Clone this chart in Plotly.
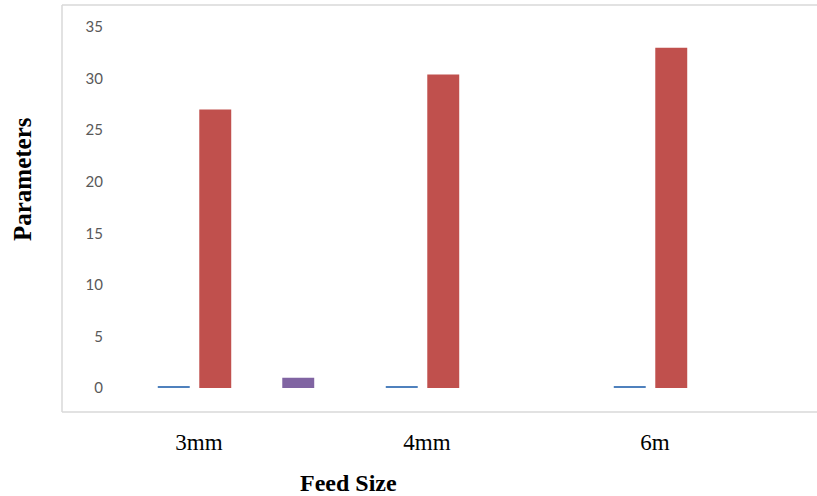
import plotly.graph_objects as go

categories = ["3mm", "4mm", "6m"]
series_names = ["Series 1", "Series 2", "Series 3", "Series 4"]
series_1 = [0.1, 0.1, 0.1]
series_2 = [27.0, 30.4, 33.0]
series_3 = [0.0, 0.0, 0.0]
series_4 = [1.0, 0.0, 0.0]
series_colors = ["#4F81BD", "#C0504D", "#9BBB59", "#8064A2"]
y_ticks = [0, 5, 10, 15, 20, 25, 30, 35]

fig = go.Figure()
for name, vals, col in zip(series_names, [series_1, series_2, series_3, series_4], series_colors):
    fig.add_trace(go.Bar(x=categories, y=vals, name=name, marker=dict(color=col, line=dict(width=0))))

W, H = 817, 496
ml, mr, mt, mb = 122, 11, 27, 108
pw, ph = W - ml - mr, H - mt - mb

def px_to_paper(x, y):
    return (x - ml) / pw, (H - mb - y) / ph

bx0, by0 = px_to_paper(62, 412)
bx1, by1 = px_to_paper(817, 5)

ax_x, ax_y = px_to_paper(348, 483)
ay_x, ay_y = px_to_paper(22, 179)

border = dict(color="#D9D9D9", width=1.5)
fig.update_layout(
    width=W, height=H,
    margin=dict(l=ml, r=mr, t=mt, b=mb),
    paper_bgcolor="white", plot_bgcolor="white",
    barmode="group", bargap=0.272, bargroupgap=0.23,
    showlegend=False,
    xaxis=dict(
        type="category", showgrid=False, zeroline=False, showline=False, ticks="",
        tickfont=dict(family="Liberation Serif", size=23, color="#000000"),
        ticklabelshift=-37, ticklabelstandoff=38,
    ),
    yaxis=dict(
        range=[0, 35], tickvals=y_ticks, showgrid=False, zeroline=False, showline=False, ticks="",
        tickfont=dict(family="Lato", size=15, color="#595959"),
        ticklabelstandoff=18,
    ),
    shapes=[
        dict(type="line", xref="paper", yref="paper", x0=bx0, x1=bx1, y0=by1, y1=by1, line=border, layer="below"),
        dict(type="line", xref="paper", yref="paper", x0=bx0, x1=bx1, y0=by0, y1=by0, line=border, layer="below"),
        dict(type="line", xref="paper", yref="paper", x0=bx0, x1=bx0, y0=by0, y1=by1, line=border, layer="below"),
    ],
    annotations=[
        dict(text="<b>Feed Size</b>", xref="paper", yref="paper", x=ax_x, y=ax_y,
             xanchor="center", yanchor="middle", showarrow=False,
             font=dict(family="Liberation Serif", size=24, color="#000000")),
        dict(text="<b>Parameters</b>", xref="paper", yref="paper", x=ay_x, y=ay_y,
             xanchor="center", yanchor="middle", showarrow=False, textangle=-90,
             font=dict(family="Liberation Serif", size=25, color="#000000")),
    ],
)

fig.write_html("out.html", config={"displayModeBar": False},
               post_script="document.body.style.margin='0';document.body.style.overflow='hidden';")
